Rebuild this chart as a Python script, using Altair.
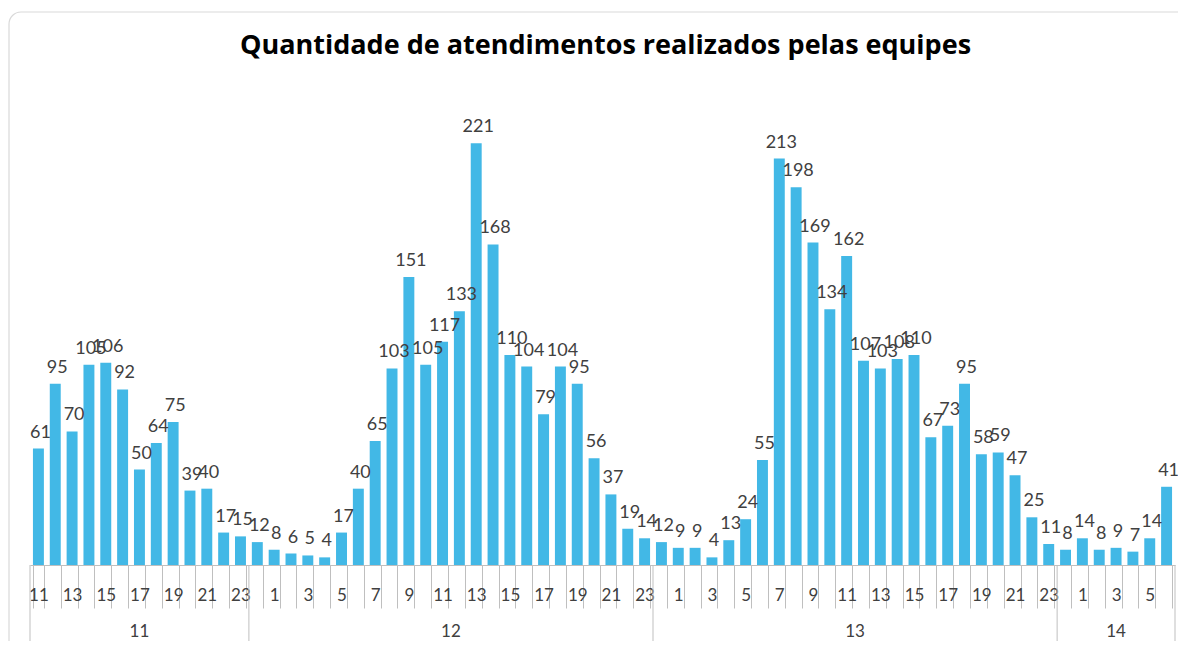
import altair as alt
import pandas as pd

# ---- data ----
day11_hours = [11, 12, 13, 14, 15, 16, 17, 18, 19, 20, 21, 22, 23]
day11_values = [61, 95, 70, 105, 106, 92, 50, 64, 75, 39, 40, 17, 15]

day12_hours = [0, 1, 2, 3, 4, 5, 6, 7, 8, 9, 10, 11, 12, 13, 14, 15, 16, 17, 18, 19, 20, 21, 22, 23]
day12_values = [12, 8, 6, 5, 4, 17, 40, 65, 103, 151, 105, 117, 133, 221, 168, 110, 104, 79, 104, 95, 56, 37, 19, 14]

day13_hours = [0, 1, 2, 3, 4, 5, 6, 7, 8, 9, 10, 11, 12, 13, 14, 15, 16, 17, 18, 19, 20, 21, 22, 23]
day13_values = [12, 9, 9, 4, 13, 24, 55, 213, 198, 169, 134, 162, 107, 103, 108, 110, 67, 73, 95, 58, 59, 47, 25, 11]

day14_hours = [0, 1, 2, 3, 4, 5, 6]
day14_values = [8, 14, 8, 9, 7, 14, 41]

days = ["11", "12", "13", "14"]
title_text = "Quantidade de atendimentos realizados pelas equipes"

# ---- build tables ----
groups = [(days[0], day11_hours, day11_values),
          (days[1], day12_hours, day12_values),
          (days[2], day13_hours, day13_values),
          (days[3], day14_hours, day14_values)]
rows = []
day_rows = []
bounds = [0]
pos = 0
for d, hs, vs in groups:
    start = pos
    for h, v in zip(hs, vs):
        rows.append({"key": f"{d}|{h}", "day": d, "hour": h, "value": v})
        pos += 1
    day_rows.append({"day": d, "mid": (start + pos) / 2})
    bounds.append(pos)
df = pd.DataFrame(rows)
keys = list(df["key"])
n = len(keys)
df_days = pd.DataFrame(day_rows)
df_bounds = pd.DataFrame({"b": bounds})
df_title = pd.DataFrame({"t": [title_text]})

FONT = "Lato"
TXT = "#404040"
GRID = "#bfbfbf"
BAR = "#42B8E6"

W, H = 1145, 477

xband = alt.X(
    "key:N", sort=keys,
    scale=alt.Scale(paddingInner=0.35, paddingOuter=0.175),
    axis=alt.Axis(
        title=None, labelAngle=0, tickBand="extent", tickSize=43,
        tickColor=GRID, domainColor=GRID, labelFont=FONT, labelFontSize=17,
        labelColor=TXT, labelPadding=-21, labelOverlap=False, labelFlush=False,
        labelExpr="toNumber(split(datum.value,'|')[1]) % 2 == 1 ? split(datum.value,'|')[1] : ''",
    ),
)
yq = alt.Y("value:Q", scale=alt.Scale(domain=[0, 250], nice=False), axis=None)

frame = alt.Chart(pd.DataFrame({"a": [0]})).mark_rect(
    filled=False, stroke="#d9d9d9", strokeWidth=1.2, cornerRadius=12
).encode(x=alt.value(-21), x2=alt.value(1170), y=alt.value(-76), y2=alt.value(600))

title = alt.Chart(df_title).mark_text(
    font="Open Sans", fontSize=27, fontWeight="bold", color="#000000",
    baseline="alphabetic", align="center"
).encode(x=alt.value(W / 2 + 3), y=alt.value(-34), text="t:N")

bars = alt.Chart(df).mark_bar(color=BAR).encode(x=xband, y=yq)

labels = alt.Chart(df).mark_text(
    font=FONT, fontSize=18, color=TXT, baseline="alphabetic", dy=-11, dx=2
).encode(x=alt.X("key:N", sort=keys, scale=alt.Scale(paddingInner=0.35, paddingOuter=0.175), axis=None),
         y=yq, text="value:Q")

xq = alt.X("b:Q", scale=alt.Scale(domain=[0, n], nice=False, zero=False), axis=None)
seps = alt.Chart(df_bounds).mark_rule(color=GRID, strokeWidth=1).encode(
    x=xq, y=alt.value(H), y2=alt.value(H + 90))

day_text = alt.Chart(df_days).mark_text(
    font=FONT, fontSize=17, color=TXT, baseline="middle"
).encode(x=alt.X("mid:Q", scale=alt.Scale(domain=[0, n], nice=False, zero=False), axis=None),
         y=alt.value(H + 67), text="day:N")

chart = alt.layer(frame, title, bars, labels, seps, day_text).resolve_scale(x="independent").properties(
    width=W, height=H,
    autosize=alt.AutoSizeParams(type="none"),
    padding={"left": 22, "top": 80, "right": 3, "bottom": 76},
).configure_view(stroke=None)

chart.save("out.html", embed_options={"renderer": "svg", "actions": False})
